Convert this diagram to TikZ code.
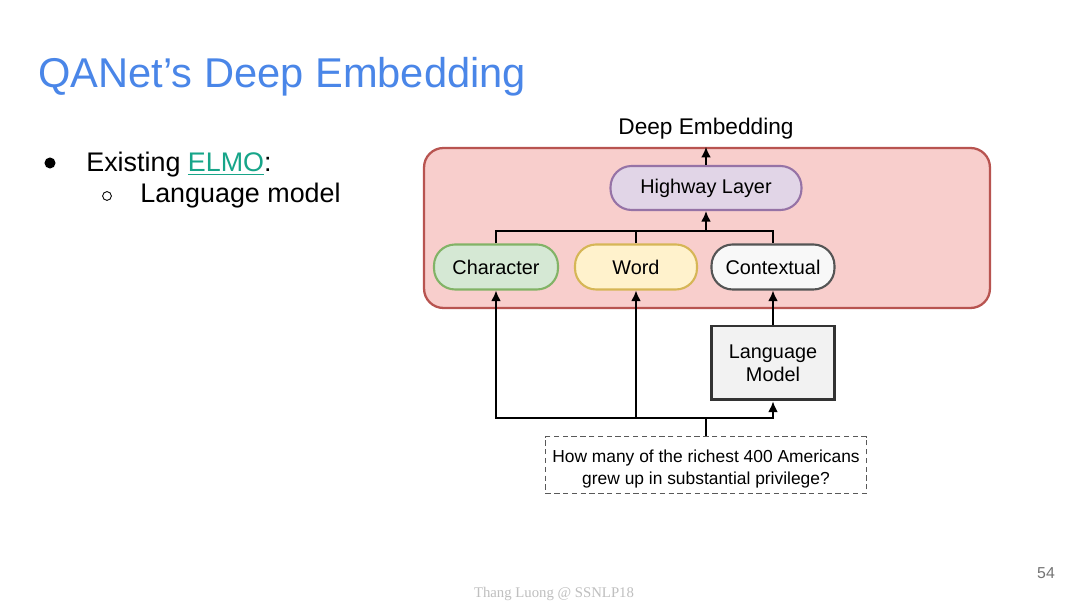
\documentclass[tikz,border=0pt]{standalone}
\usepackage{fontspec}
\setmainfont{Liberation Sans}
\newfontfamily\footserif{Liberation Serif}
\usetikzlibrary{arrows.meta}
\definecolor{titleblue}{HTML}{4A86E8}
\definecolor{elmoteal}{HTML}{17A589}
\definecolor{embfill}{HTML}{F8CECC}
\definecolor{embdraw}{HTML}{B85450}
\definecolor{hwfill}{HTML}{E1D5E7}
\definecolor{hwdraw}{HTML}{9673A6}
\definecolor{chfill}{HTML}{D5E8D4}
\definecolor{chdraw}{HTML}{82B366}
\definecolor{wdfill}{HTML}{FFF2CC}
\definecolor{wddraw}{HTML}{D6B656}
\definecolor{ctfill}{HTML}{F8F8F8}
\definecolor{ctdraw}{HTML}{555555}
\definecolor{lmfill}{HTML}{F2F2F2}
\definecolor{lmdraw}{HTML}{333333}
\begin{document}
\begin{tikzpicture}[x=0.02cm,y=-0.02cm,
  pill/.style={draw, line width=1.2pt, rounded corners=12pt, minimum height=0.9cm, inner sep=0pt, font=\fontsize{11.3}{13}\selectfont},
  conn/.style={line width=0.85pt, draw=black},
  arr/.style={conn, -{Latex[length=6pt,width=5.5pt]}},
  lbl/.style={inner sep=0pt, anchor=base west}]
\path[use as bounding box, fill=white] (0,0) rectangle (1080,607);

% title and bullets
\node[lbl, text=titleblue, font=\fontsize{23.7}{28}\selectfont] (title) at (38,88) {QANet’s Deep Embedding};
\node[circle, fill=black, inner sep=0pt, minimum size=6.3pt] (b1) at (50,163) {};
\node[lbl, font=\fontsize{15.3}{18}\selectfont] (t1) at (86,172) {Existing \textcolor{elmoteal}{\underline{ELMO}}:};
\node[circle, draw=black, line width=0.5pt, inner sep=0pt, minimum size=5pt] (b2) at (107,196) {};
\node[lbl, font=\fontsize{15.3}{18}\selectfont] (t2) at (140,203) {Language model};

% container
\node[draw=embdraw, fill=embfill, line width=1.3pt, rounded corners=11pt, minimum width=11.32cm, minimum height=3.2cm] (emb) at (707,228) {};
\node[font=\fontsize{12.9}{15}\selectfont, inner sep=0pt] (detitle) at (706,129) {Deep Embedding};

% inner nodes
\node[pill, fill=hwfill, draw=hwdraw, minimum width=3.82cm, minimum height=0.88cm] (hw) at (706,188) {Highway Layer};
\node[pill, fill=chfill, draw=chdraw, minimum width=2.48cm] (ch) at (496,267) {Character};
\node[pill, fill=wdfill, draw=wddraw, minimum width=2.44cm] (wd) at (636,267) {Word};
\node[pill, fill=ctfill, draw=ctdraw, minimum width=2.46cm] (ct) at (773,267) {Contextual};

% language model and question
\node[draw=lmdraw, fill=lmfill, line width=1.7pt, minimum width=2.46cm, minimum height=1.48cm, align=center, font=\fontsize{11.3}{13}\selectfont] (lm) at (773,363) {Language\\Model};
\node[draw=black!65, line width=0.8pt, dash pattern=on 3pt off 2pt, minimum width=6.42cm, minimum height=1.14cm] (q) at (706,465) {};
\node[align=center, inner sep=0pt, font=\fontsize{9.9}{12}\selectfont] (qtext) at (706,469) {How many of the richest 400 Americans\\grew up in substantial privilege?};

% top connectors
\coordinate (busT) at (706,231);
\draw[conn] (ch.north) |- (ct.north |- busT) -- (ct.north);
\draw[conn] (wd.north) -- (wd.north |- busT);
\draw[arr] (busT) -- (hw.south);
\draw[arr] (hw.north) -- (hw.north |- emb.north);

% bottom connectors
\coordinate (busB) at (706,418);
\draw[conn] (q.north) -- (busB);
\draw[arr] (busB) -| (ch.south);
\draw[arr] (busB) -| (wd.south);
\draw[arr] (busB) -| (lm.south);
\draw[arr] (lm.north) -- (ct.south);

% footer
\node[text=black!55, font=\fontsize{9}{11}\selectfont, inner sep=0pt] (pg) at (1046,573) {54};
\node[text=black!25, font=\footserif\fontsize{8.4}{10}\selectfont, inner sep=0pt] (foot) at (554,594) {Thang Luong @ SSNLP18};
\end{tikzpicture}
\end{document}
